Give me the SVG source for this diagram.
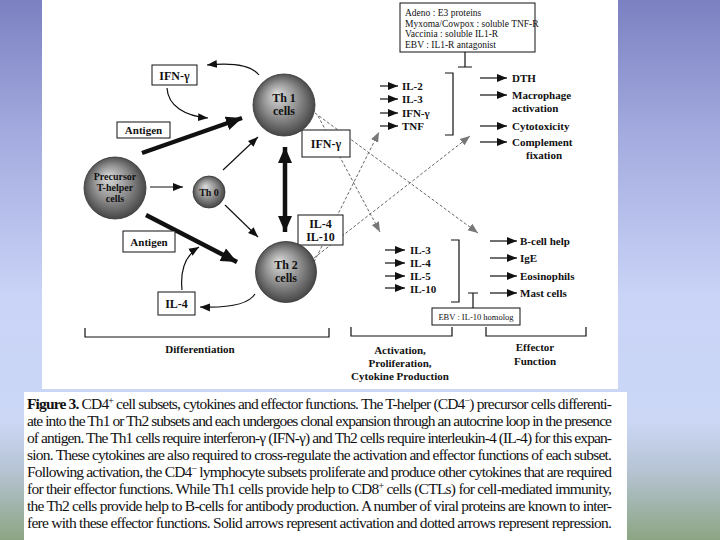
<svg xmlns="http://www.w3.org/2000/svg" width="720" height="540" viewBox="0 0 720 540">
<style>
.lbl{font-family:"Liberation Serif","Times New Roman",serif;font-weight:bold;fill:#111}
.sm{font-family:"Liberation Serif","Times New Roman",serif;fill:#111}
.box{fill:#fff;stroke:#111;stroke-width:1}
.cell{stroke:#333;stroke-width:0.8}
.thin{stroke:#111;stroke-width:1.2;fill:none;marker-end:url(#ah)}
.thick{stroke:#111;stroke-width:4.5;fill:none;marker-end:url(#ahBig)}
.dash{stroke:#666;stroke-width:1;stroke-dasharray:3 2;fill:none;marker-end:url(#ahGray)}
.brk{stroke:#111;stroke-width:1.2;fill:none}
.cap{font-family:"Liberation Serif","Times New Roman",serif;font-size:15.5px;fill:#111}
</style>
<defs>
<linearGradient id="bg" x1="0" y1="0" x2="0" y2="1">
<stop offset="0" stop-color="#7b81c1"/>
<stop offset="0.25" stop-color="#a4abdf"/>
<stop offset="0.55" stop-color="#c9d4f7"/>
<stop offset="0.78" stop-color="#cbd7f5"/>
<stop offset="0.87" stop-color="#b6c4d4"/>
<stop offset="1" stop-color="#8da583"/>
</linearGradient>
<radialGradient id="sphere" cx="0.5" cy="0.5" r="0.55" fx="0.38" fy="0.32">
<stop offset="0" stop-color="#dcdcdc"/>
<stop offset="0.5" stop-color="#929292"/>
<stop offset="1" stop-color="#3a3a3a"/>
</radialGradient>
<marker id="ah" markerUnits="userSpaceOnUse" markerWidth="12" markerHeight="10" refX="10" refY="5" orient="auto">
<path d="M0,1 L10,5 L0,9 Z" fill="#111"/>
</marker>
<marker id="ahBig" markerUnits="userSpaceOnUse" markerWidth="18" markerHeight="14" refX="16" refY="7" orient="auto">
<path d="M0,0 L16,7 L0,14 Z" fill="#111"/>
</marker>
<marker id="ahBigS" markerUnits="userSpaceOnUse" markerWidth="18" markerHeight="14" refX="0" refY="7" orient="auto">
<path d="M16,0 L0,7 L16,14 Z" fill="#111"/>
</marker>
<marker id="ahGray" markerUnits="userSpaceOnUse" markerWidth="12" markerHeight="10" refX="10" refY="5" orient="auto">
<path d="M0,1 L10,5 L0,9 Z" fill="#777"/>
</marker>
</defs>

<rect x="0" y="0" width="720" height="540" fill="url(#bg)"/>
<rect x="42" y="0" width="576" height="389" fill="#fff"/>
<rect x="24" y="392" width="603" height="148" fill="#fff"/>

<g id="connectors">
<line class="dash" x1="318" y1="116" x2="380" y2="232"/>
<line class="dash" x1="315" y1="113" x2="478" y2="233"/>
<line class="dash" x1="314" y1="262" x2="379" y2="132"/>
<line class="dash" x1="314" y1="258" x2="470" y2="136"/>
<path class="thin" d="M259,75 C252,66 236,62 207,65"/>
<path class="thin" d="M167,88 C168,106 185,116 208,118"/>
<path class="thin" d="M182,290 C180,270 186,255 199,247"/>
<path class="thin" d="M255,294 C248,305 226,308 200,307"/>
<line class="thick" x1="142" y1="153" x2="242" y2="118"/>
<line class="thick" x1="146" y1="215" x2="237" y2="262"/>
<line class="thin" x1="150" y1="187" x2="183" y2="187"/>
<line class="thin" x1="223" y1="170" x2="258" y2="137"/>
<line class="thin" x1="225" y1="205" x2="258" y2="237"/>
<line class="thick" x1="285" y1="147" x2="285" y2="232" style="marker-start:url(#ahBigS)"/>
<line class="thin" x1="380" y1="86" x2="398" y2="86"/>
<line class="thin" x1="380" y1="99" x2="398" y2="99"/>
<line class="thin" x1="380" y1="113" x2="398" y2="113"/>
<line class="thin" x1="380" y1="126" x2="398" y2="126"/>
<line class="thin" x1="480" y1="78" x2="507" y2="78"/>
<line class="thin" x1="480" y1="95" x2="507" y2="95"/>
<line class="thin" x1="480" y1="126" x2="507" y2="126"/>
<line class="thin" x1="480" y1="142" x2="507" y2="142"/>
<line class="thin" x1="385" y1="250" x2="405" y2="250"/>
<line class="thin" x1="385" y1="263" x2="405" y2="263"/>
<line class="thin" x1="385" y1="276" x2="405" y2="276"/>
<line class="thin" x1="385" y1="288" x2="405" y2="288"/>
<line class="thin" x1="490" y1="241" x2="517" y2="241"/>
<line class="thin" x1="490" y1="258" x2="517" y2="258"/>
<line class="thin" x1="490" y1="276" x2="517" y2="276"/>
<line class="thin" x1="490" y1="293" x2="517" y2="293"/>
<path class="brk" d="M465,52 V67 M458,67 H472"/>
<path class="brk" d="M473,308 V293 M468,293 H478"/>
<path class="brk" d="M445,73 H453 V135 H445"/>
<path class="brk" d="M451,240 H459 V302 H451"/>
<path class="brk" d="M85,328 V337 H329 V328"/>
<path class="brk" d="M351,327 V336 H452 V327"/>
<path class="brk" d="M486,327 V336 H586 V327"/>
</g>

<g id="viral-box-top">
<rect class="box" x="400" y="3" width="135" height="49"/>
<text class="sm" font-size="9.5" x="405" y="16">Adeno : E3 proteins</text>
<text class="sm" font-size="9.5" x="405" y="26.5">Myxoma/Cowpox : soluble TNF-R</text>
<text class="sm" font-size="9.5" x="405" y="37">Vaccinia : soluble IL1-R</text>
<text class="sm" font-size="9.5" x="405" y="47.5">EBV : IL1-R antagonist</text>
</g>

<g id="ifn-box-left">
<rect class="box" x="152" y="65" width="45" height="20"/>
<text class="lbl" font-size="12" x="174.5" y="79.5" text-anchor="middle">IFN-γ</text>
</g>
<g id="antigen-top">
<rect class="box" x="117" y="122" width="53" height="16"/>
<text class="lbl" font-size="11" x="143.5" y="134" text-anchor="middle">Antigen</text>
</g>
<g id="antigen-bottom">
<rect class="box" x="123" y="231" width="52" height="21"/>
<text class="lbl" font-size="11" x="149" y="245.5" text-anchor="middle">Antigen</text>
</g>
<g id="il4-box-left">
<rect class="box" x="158" y="292" width="37" height="23"/>
<text class="lbl" font-size="12" x="176.5" y="308" text-anchor="middle">IL-4</text>
</g>
<g id="ifn-box-center">
<rect class="box" x="302" y="130" width="48" height="27"/>
<text class="lbl" font-size="12" x="326" y="148" text-anchor="middle">IFN-γ</text>
</g>
<g id="il4-il10-box">
<rect class="box" x="298" y="215" width="45" height="30"/>
<text class="lbl" font-size="12" x="320.5" y="228" text-anchor="middle">IL-4</text>
<text class="lbl" font-size="12" x="320.5" y="241" text-anchor="middle">IL-10</text>
</g>

<g id="precursor">
<circle class="cell" cx="115" cy="188" r="31" fill="url(#sphere)"/>
<text class="lbl" font-size="10" x="115" y="180" text-anchor="middle">Precursor</text>
<text class="lbl" font-size="10" x="115" y="191" text-anchor="middle">T-helper</text>
<text class="lbl" font-size="10" x="115" y="202" text-anchor="middle">cells</text>
</g>
<g id="th0">
<circle class="cell" cx="209" cy="192" r="16" fill="url(#sphere)"/>
<text class="lbl" font-size="10" x="209" y="195.5" text-anchor="middle">Th 0</text>
</g>
<g id="th1">
<circle class="cell" cx="284" cy="105" r="31" fill="url(#sphere)"/>
<text class="lbl" font-size="12" x="284" y="102" text-anchor="middle">Th 1</text>
<text class="lbl" font-size="12" x="284" y="115" text-anchor="middle">cells</text>
</g>
<g id="th2">
<circle class="cell" cx="286" cy="272" r="30.5" fill="url(#sphere)"/>
<text class="lbl" font-size="12" x="286" y="269" text-anchor="middle">Th 2</text>
<text class="lbl" font-size="12" x="286" y="282" text-anchor="middle">cells</text>
</g>

<g id="th1-cytokines">
<text class="lbl" font-size="11" x="402" y="90">IL-2</text>
<text class="lbl" font-size="11" x="402" y="103">IL-3</text>
<text class="lbl" font-size="11" x="402" y="117">IFN-γ</text>
<text class="lbl" font-size="11" x="402" y="130">TNF</text>
</g>
<g id="th1-effects">
<text class="lbl" font-size="11" x="512" y="82">DTH</text>
<text class="lbl" font-size="11" x="512" y="99">Macrophage</text>
<text class="lbl" font-size="11" x="512" y="112">activation</text>
<text class="lbl" font-size="11" x="512" y="130">Cytotoxicity</text>
<text class="lbl" font-size="11" x="512" y="146">Complement</text>
<text class="lbl" font-size="11" x="544" y="159" text-anchor="middle">fixation</text>
</g>
<g id="th2-cytokines">
<text class="lbl" font-size="11" x="410" y="254">IL-3</text>
<text class="lbl" font-size="11" x="410" y="267">IL-4</text>
<text class="lbl" font-size="11" x="410" y="280">IL-5</text>
<text class="lbl" font-size="11" x="410" y="293">IL-10</text>
</g>
<g id="th2-effects">
<text class="lbl" font-size="11" x="520" y="245">B-cell help</text>
<text class="lbl" font-size="11" x="520" y="262">IgE</text>
<text class="lbl" font-size="11" x="520" y="280">Eosinophils</text>
<text class="lbl" font-size="11" x="520" y="297">Mast cells</text>
</g>
<g id="ebv-box">
<rect class="box" x="432" y="308" width="88" height="17"/>
<text class="sm" font-size="8.5" x="476" y="320" text-anchor="middle">EBV : IL-10 homolog</text>
</g>

<g id="stage-labels">
<text class="lbl" font-size="11" x="200" y="353" text-anchor="middle">Differentiation</text>
<text class="lbl" font-size="11" x="400" y="354" text-anchor="middle">Activation,</text>
<text class="lbl" font-size="11" x="400" y="367" text-anchor="middle">Proliferation,</text>
<text class="lbl" font-size="11" x="400" y="380" text-anchor="middle">Cytokine Production</text>
<text class="lbl" font-size="11" x="535" y="351" text-anchor="middle">Effector</text>
<text class="lbl" font-size="11" x="535" y="365" text-anchor="middle">Function</text>
</g>

<g id="caption">
<text class="cap" x="27" y="409" textLength="585" lengthAdjust="spacing"><tspan font-weight="bold">Figure 3.</tspan>  CD4<tspan dy="-5" font-size="10">+</tspan><tspan dy="5"> cell subsets, cytokines and effector functions. The T-helper (CD4</tspan><tspan dy="-5" font-size="10">−</tspan><tspan dy="5">) precursor cells differenti-</tspan></text>
<text class="cap" x="27" y="426" textLength="585" lengthAdjust="spacing">ate into the Th1 or Th2 subsets and each undergoes clonal expansion through an autocrine loop in the presence</text>
<text class="cap" x="27" y="443" textLength="585" lengthAdjust="spacing">of antigen. The Th1 cells require interferon-γ (IFN-γ) and Th2 cells require interleukin-4 (IL-4) for this expan-</text>
<text class="cap" x="27" y="460" textLength="585" lengthAdjust="spacing">sion. These cytokines are also required to cross-regulate the activation and effector functions of each subset.</text>
<text class="cap" x="27" y="477" textLength="585" lengthAdjust="spacing">Following activation, the CD4<tspan dy="-5" font-size="10">−</tspan><tspan dy="5"> lymphocyte subsets proliferate and produce other cytokines that are required</tspan></text>
<text class="cap" x="27" y="494" textLength="585" lengthAdjust="spacing">for their effector functions. While Th1 cells provide help to CD8<tspan dy="-5" font-size="10">+</tspan><tspan dy="5"> cells (CTLs) for cell-mediated immunity,</tspan></text>
<text class="cap" x="27" y="511" textLength="585" lengthAdjust="spacing">the Th2 cells provide help to B-cells for antibody production. A number of viral proteins are known to inter-</text>
<text class="cap" x="27" y="528" textLength="585" lengthAdjust="spacing">fere with these effector functions. Solid arrows represent activation and dotted arrows represent repression.</text>
</g>
</svg>
